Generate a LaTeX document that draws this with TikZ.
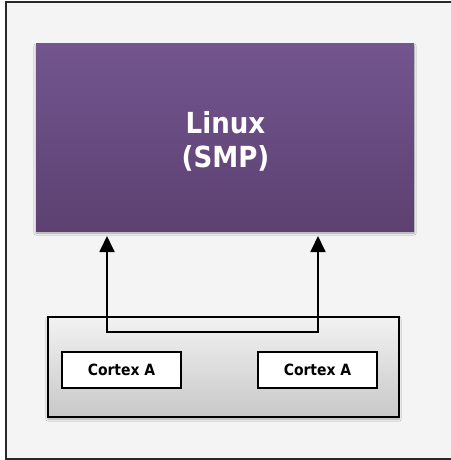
\documentclass[tikz,border=0pt]{standalone}
\usepackage{fontspec}
\setmainfont{DejaVu Sans Condensed}
\usetikzlibrary{arrows.meta,shadows.blur}
\definecolor{bgray}{RGB}{244,244,244}
\definecolor{frameline}{RGB}{40,40,40}
\definecolor{purtop}{RGB}{115,85,143}
\definecolor{purbot}{RGB}{92,65,113}
\definecolor{boxtop}{RGB}{242,242,242}
\definecolor{boxbot}{RGB}{200,200,200}
\tikzset{
  osbox/.style={rectangle, inner sep=0pt, top color=purtop, bottom color=purbot, draw=none,
    blur shadow={shadow xshift=0pt, shadow yshift=-2pt, shadow blur steps=6, shadow opacity=35}},
  ostext/.style={inner sep=0pt, text=white, font=\bfseries\fontsize{29}{34}\selectfont, align=center},
  socbox/.style={rectangle, inner sep=0pt, top color=boxtop, bottom color=boxbot, draw=black, line width=1.5pt,
    blur shadow={shadow xshift=0pt, shadow yshift=-2pt, shadow blur steps=6, shadow opacity=30}},
  corebox/.style={rectangle, inner sep=0pt, fill=white, draw=black, line width=1.5pt,
    minimum width=119pt, minimum height=36pt, font=\bfseries\fontsize{15.5}{18}\selectfont},
  conn/.style={line width=1.8pt, {Triangle[width=15pt,length=16pt]}-{Triangle[width=15pt,length=16pt]}}
}
\begin{document}
\begin{tikzpicture}[x=1pt,y=-1pt]
\useasboundingbox (0,0) rectangle (450,460);
\fill[white] (0,0) rectangle (450,460);
\draw[frameline, fill=bgray, line width=1.5pt] (6,2) rectangle (453,459);
\node[osbox, minimum width=378pt, minimum height=187pt] (linux) at (225,137.5) {};
\node[ostext] (linuxtxt) at (225.5,141) {Linux\\(SMP)};
\node[socbox, minimum width=351pt, minimum height=100pt] (soc) at (223.5,367) {};
\node[corebox] (core1) at (121.5,370) {Cortex A};
\node[corebox] (core2) at (317.5,370) {Cortex A};
\coordinate (la) at (107,236);
\coordinate (ra) at (318,236);
\coordinate (lb) at (107,332);
\coordinate (rb) at (318,332);
\draw[conn] (la) -- (lb) -- (rb) -- (ra);
\end{tikzpicture}
\end{document}
